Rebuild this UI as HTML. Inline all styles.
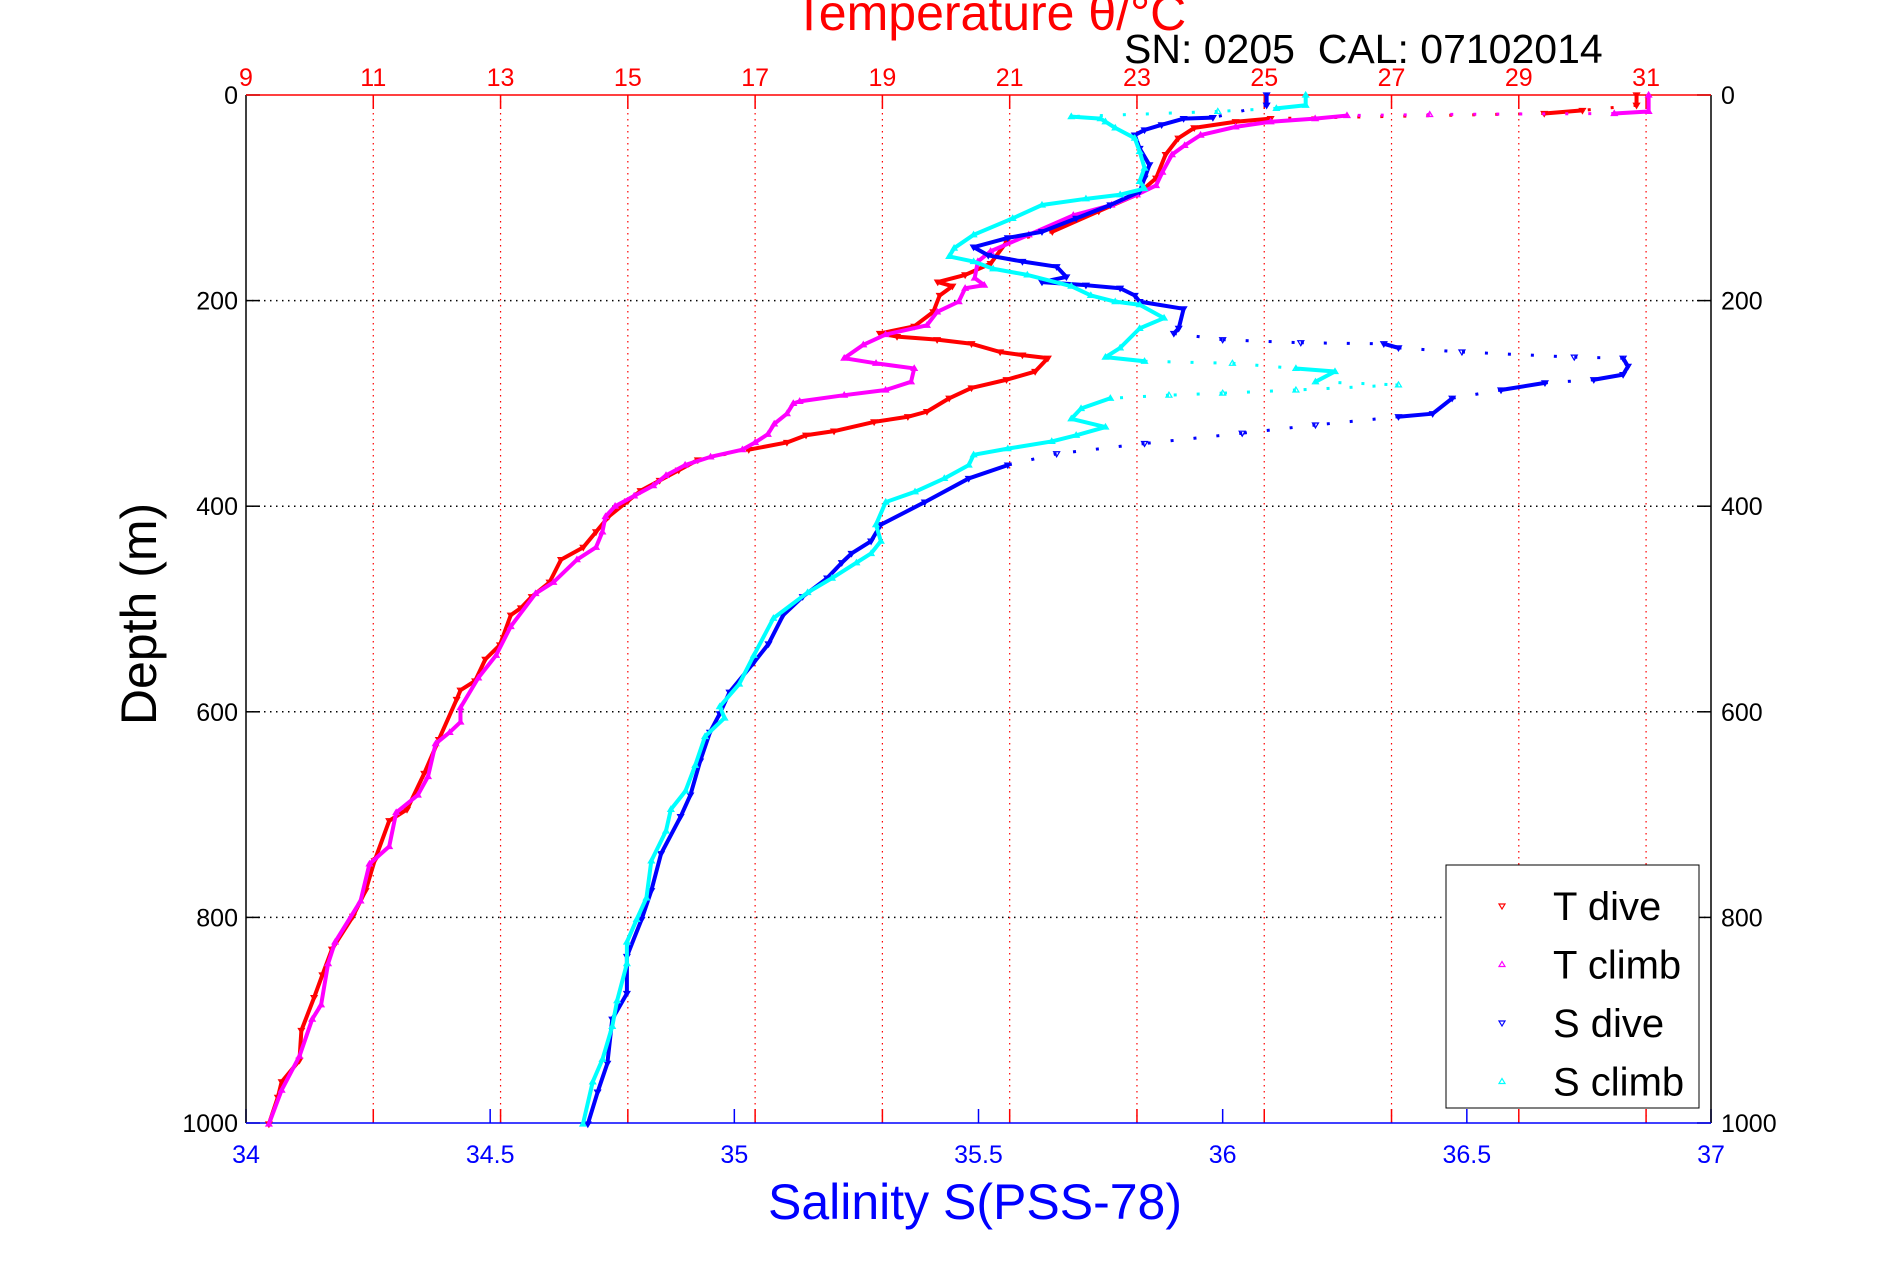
<!DOCTYPE html>
<html><head><meta charset="utf-8"><style>
body{margin:0;background:#fff;width:1891px;height:1262px;overflow:hidden;font-family:"Liberation Sans",sans-serif}
svg{display:block}
</style></head><body>
<svg id="chart" width="1891" height="1262" xmlns="http://www.w3.org/2000/svg" font-family="Liberation Sans, sans-serif">
<text x="990" y="30" font-size="50" fill="#ff0000" text-anchor="middle">Temperature θ/°C</text>
<text x="1124" y="63" font-size="41" fill="#000">SN: 0205&#160;&#160;CAL: 07102014</text>
<text transform="translate(156,614) rotate(-90)" font-size="50" fill="#000" text-anchor="middle">Depth (m)</text>
<text x="975" y="1219" font-size="50" fill="#0000ff" text-anchor="middle">Salinity S(PSS-78)</text>
<g id="grid"></g><g id="axes"></g><g id="series"></g>
<g>
<rect x="1446" y="865" width="253" height="243" fill="#fff" stroke="#000" stroke-width="1"/>
<g id="legend-items"></g>
</g>
</svg>
<script>
const depthTicks=[0,200,400,600,800,1000];
const tempTicks=[9,11,13,15,17,19,21,23,25,27,29,31];
const salTicks=[34,34.5,35,35.5,36,36.5,37];
// [depth, value]
const tDiveDepth=[0,10,15,18,23,26,32,42,58,81,97,113,133,143,164,175,182,186,195,211,225,232,235,238,242,250,253,256,269,277,285,295,308,313,318,327,331,338,345,355,365,375,385,395,410,425,440,452,474,488,499,506,535,549,570,579,588,627,660,695,706,745,774,799,831,856,878,910,939,960,975,1001];
const tDiveVal=[30.85,30.85,30.0,29.4,25.1,24.55,23.9,23.65,23.45,23.3,23.0,22.4,21.67,20.95,20.7,20.3,19.87,20.1,19.9,19.8,19.5,18.96,19.23,19.86,20.4,20.85,21.2,21.6,21.4,20.95,20.4,20.05,19.7,19.4,18.87,18.24,17.8,17.5,16.9,16.1,15.8,15.5,15.2,15.0,14.7,14.5,14.3,13.95,13.77,13.49,13.32,13.16,12.99,12.76,12.6,12.37,12.31,12.03,11.8,11.53,11.25,11.02,10.88,10.68,10.35,10.2,10.07,9.87,9.84,9.56,9.5,9.36];
const tClimbDepth=[0,16,18,19,20,23,26,31,39,49,58,75,88,97,107,117,136,152,162,178,185,188,201,211,224,233,243,256,261,266,279,287,292,298,300,310,320,330,338,345,352,360,370,380,390,400,410,425,440,452,474,485,517,545,567,596,610,620,631,663,681,698,731,748,784,824,845,885,899,935,968,1001];
const tClimbVal=[31.04,31.04,30.5,27.6,26.3,25.8,25.1,24.55,24.0,23.75,23.55,23.4,23.3,23.0,22.6,22.0,21.3,20.7,20.5,20.45,20.6,20.3,20.2,19.86,19.7,19.05,18.7,18.4,18.9,19.5,19.45,19.05,18.4,17.7,17.6,17.5,17.3,17.2,17.0,16.8,16.3,15.9,15.6,15.4,15.1,14.8,14.65,14.6,14.5,14.2,13.83,13.55,13.16,12.93,12.65,12.37,12.37,12.2,11.98,11.86,11.7,11.36,11.25,10.94,10.8,10.4,10.29,10.18,10.04,9.84,9.56,9.36];
const sDiveDepth=[0,10,22,23,29,34,39,52,68,81,94,107,120,133,139,148,156,162,167,177,182,185,188,195,201,208,227,232,238,241,242,246,250,255,256,264,272,277,280,287,295,310,313,321,329,339,349,360,373,396,418,434,446,455,470,488,506,534,552,581,602,620,648,681,702,738,774,802,838,874,899,942,970,1001];
const sDiveVal=[36.09,36.09,35.98,35.92,35.875,35.84,35.82,35.83,35.85,35.84,35.83,35.77,35.70,35.63,35.56,35.49,35.52,35.59,35.66,35.68,35.63,35.72,35.79,35.82,35.83,35.92,35.91,35.90,36.0,36.16,36.33,36.36,36.49,36.72,36.82,36.83,36.82,36.76,36.66,36.57,36.47,36.43,36.36,36.19,36.04,35.84,35.66,35.56,35.48,35.39,35.30,35.28,35.24,35.22,35.19,35.14,35.10,35.07,35.04,34.99,34.97,34.95,34.93,34.91,34.89,34.85,34.83,34.81,34.78,34.78,34.75,34.74,34.72,34.70];
const sClimbDepth=[0,10,13,16,21,23,26,32,42,55,71,84,91,97,101,107,120,136,149,157,162,169,175,186,195,201,204,217,227,246,255,259,261,266,269,279,282,287,290,292,295,305,315,323,331,337,344,350,360,373,386,396,418,434,446,455,470,484,509,545,573,595,606,624,652,677,695,716,745,781,802,824,845,881,906,938,960,1001];
const sClimbVal=[36.17,36.17,36.11,35.99,35.69,35.75,35.76,35.78,35.82,35.83,35.84,35.83,35.84,35.79,35.72,35.63,35.57,35.49,35.45,35.44,35.49,35.53,35.60,35.69,35.73,35.78,35.83,35.88,35.83,35.79,35.76,35.84,36.02,36.15,36.23,36.19,36.36,36.15,36.00,35.89,35.77,35.71,35.69,35.76,35.70,35.65,35.56,35.49,35.48,35.43,35.37,35.31,35.29,35.30,35.28,35.25,35.20,35.15,35.08,35.04,35.01,34.97,34.98,34.94,34.92,34.90,34.87,34.86,34.83,34.82,34.80,34.78,34.78,34.76,34.75,34.73,34.71,34.69];

const X0=246,X1=1711,Y0=95,Y1=1123;
const yScale=d=>Y0+(d/1000)*(Y1-Y0);
const sScale=s=>X0+(s-34)/3*(X1-X0);
const tScale=t=>X0+(t-9)*63.64;
const NS='http://www.w3.org/2000/svg';
function mk(tag,attrs,parent){const e=document.createElementNS(NS,tag);for(const k in attrs)e.setAttribute(k,attrs[k]);parent.appendChild(e);return e;}
const grid=document.getElementById('grid'),axes=document.getElementById('axes'),series=document.getElementById('series');
depthTicks.forEach(d=>{const y=yScale(d);
 if(d>0&&d<1000){const g=mk('line',{x1:X0,x2:X1,y1:y,y2:y,stroke:'#000','stroke-width':1.5,'stroke-dasharray':'1.5 4.5'},grid);
 
 }
 mk('line',{x1:X0,x2:X0+14,y1:y,y2:y,stroke:'#000','stroke-width':1.5},axes);
 mk('line',{x1:X1-14,x2:X1,y1:y,y2:y,stroke:'#000','stroke-width':1.5},axes);
 const l=mk('text',{x:X0-8,y:y+9,'font-size':25,'text-anchor':'end',fill:'#000'},axes);l.textContent=d;
 
 
 const r=mk('text',{x:X1+10,y:y+9,'font-size':25,fill:'#000'},axes);r.textContent=d;
 
 
});
tempTicks.forEach(t=>{const x=tScale(t);
 if(t>9){const g=mk('line',{x1:x,x2:x,y1:Y0,y2:Y1,stroke:'#ff0000','stroke-width':1.2,'stroke-dasharray':'1.5 4.5'},grid);
 
 
 mk('line',{x1:x,x2:x,y1:Y0,y2:Y0+14,stroke:'#ff0000','stroke-width':1.5},axes);
 mk('line',{x1:x,x2:x,y1:Y1-14,y2:Y1,stroke:'#ff0000','stroke-width':1.5},axes);}
 const l=mk('text',{x:x,y:86,'font-size':25,'text-anchor':'middle',fill:'#ff0000'},axes);l.textContent=t;
 
 
});
salTicks.forEach(s=>{const x=sScale(s);
 mk('line',{x1:x,x2:x,y1:Y1-14,y2:Y1,stroke:'#0000ff','stroke-width':1.5},axes);
 const l=mk('text',{x:x,y:1163,'font-size':25,'text-anchor':'middle',fill:'#0000ff'},axes);l.textContent=s;
 
 
});
mk('line',{x1:X0,x2:X0,y1:Y0,y2:Y1,stroke:'#000','stroke-width':1.5},axes);
mk('line',{x1:X1,x2:X1,y1:Y0,y2:Y1,stroke:'#000','stroke-width':1.5},axes);
mk('line',{x1:X0,x2:X1,y1:Y0,y2:Y0,stroke:'#ff0000','stroke-width':1.5},axes);
mk('line',{x1:X0,x2:X1,y1:Y1,y2:Y1,stroke:'#0000ff','stroke-width':1.5},axes);
function tri(x,y,down){return down?`${x-3},${y-2} ${x+3},${y-2} ${x},${y+3}`:`${x-3},${y+2} ${x+3},${y+2} ${x},${y-3}`;}
function drawSeries(depths,vals,scale,color,down,name){
 const g=mk('g',{},series);
 
 
 for(let i=1;i<depths.length;i++){
  const xa=scale(vals[i-1]),ya=yScale(depths[i-1]),xb=scale(vals[i]),yb=yScale(depths[i]);
  const dx=Math.abs(xb-xa),dy=Math.abs(yb-ya);
  if(dx>45&&dx>2.5*dy){mk('line',{x1:xa,y1:ya,x2:xb,y2:yb,stroke:color,'stroke-width':3,'stroke-dasharray':'3 20'},g);}
  else{mk('line',{x1:xa,y1:ya,x2:xb,y2:yb,stroke:color,'stroke-width':4,'stroke-linecap':'round'},g);}
 }
 depths.forEach((d,i)=>{const p=mk('polygon',{points:tri(scale(vals[i]),yScale(d),down),fill:'none',stroke:color,'stroke-width':1.2},g);
 
 });
}
drawSeries(tDiveDepth,tDiveVal,tScale,'#ff0000',true,'t-dive-series');
drawSeries(tClimbDepth,tClimbVal,tScale,'#ff00ff',false,'t-climb-series');
drawSeries(sDiveDepth,sDiveVal,sScale,'#0000ff',true,'s-dive-series');
drawSeries(sClimbDepth,sClimbVal,sScale,'#00ffff',false,'s-climb-series');
const legendLabels=['T dive','T climb','S dive','S climb'];
const legendColors=['#ff0000','#ff00ff','#0000ff','#00ffff'];
const li=document.getElementById('legend-items');
legendLabels.forEach((lab,i)=>{const y=906+i*58.5;
 const g=mk('g',{},li);
 
 
 mk('polygon',{points:tri(1502,y,i%2===0),fill:'none',stroke:legendColors[i],'stroke-width':1.2},g);
 const t=mk('text',{x:1553,y:y+14,'font-size':40,fill:'#000'},g);t.textContent=lab;
});
</script>
</body></html>
